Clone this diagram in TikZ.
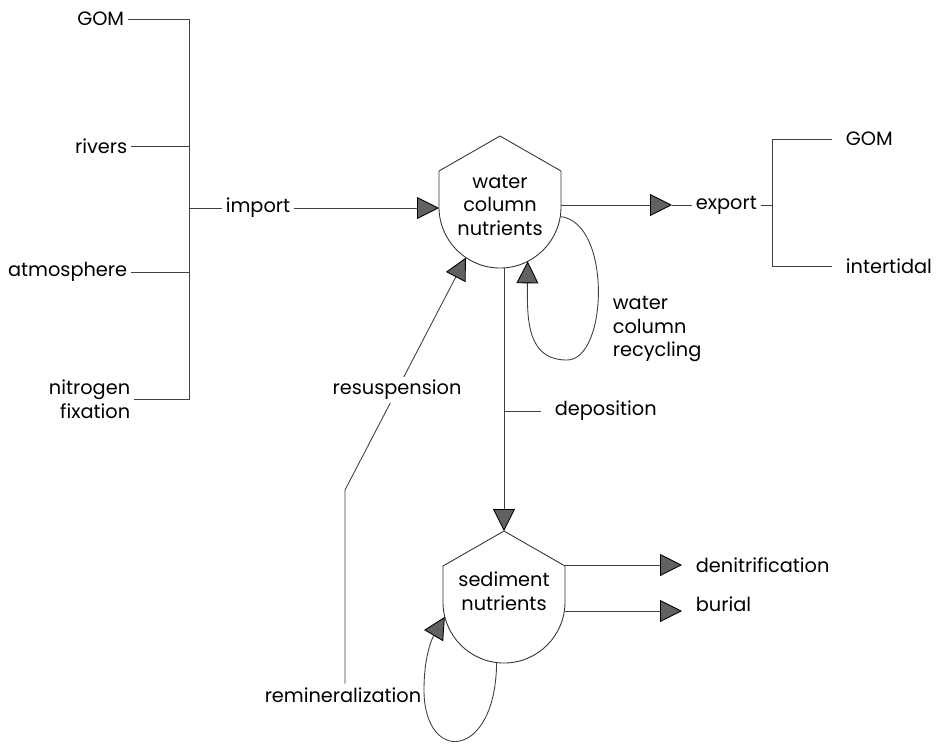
\documentclass[tikz,border=0pt]{standalone}
\usepackage{fontspec}
\setmainfont{Poppins}
\usetikzlibrary{arrows.meta}

% house-shaped outline of a nutrient pool: roof on top, round bottom
\newcommand{\poolrim}[1]{%
  \draw[rim] (#1.center) ++(0,-71) -- ++(61,35) -- (#1.east)
    arc[start angle=0, end angle=180, radius=61] -- ++(0,-36) -- cycle;}

\begin{document}
\begin{tikzpicture}[x=0.02cm, y=-0.02cm,
  wire/.style={draw=black!75, line width=.5pt},
  flow/.style={wire, -{Triangle[length=12.5pt, width=12.5pt, color=black, fill=black!62]}},
  rim/.style={draw=black!80, line width=.5pt},
  pool/.style={circle, minimum size=2.44cm, inner sep=0pt, outer sep=0pt},
  lbl/.style={inner sep=2pt, font=\fontsize{11}{13.4}\selectfont}]
 \useasboundingbox (0,0) rectangle (936,752);

 % pools
 \node[pool] (water) at (500,207) {};
 \node[pool] (sediment) at (504,602) {};
 \poolrim{water}
 \poolrim{sediment}
 \node[lbl, align=center] (wtext) at (500,205) {water\\column\\nutrients};
 \node[lbl, align=center] (stext) at (504,591) {sediment\\nutrients};

 % sources
 \node[lbl, anchor=east] (gomIn) at (128,19) {GOM};
 \node[lbl, anchor=east] (rivers) at (131,146) {rivers};
 \node[lbl, anchor=east] (atmos) at (131,272) {atmosphere};
 \node[lbl, anchor=east, align=right] (nfix) at (134,399) {nitrogen\\fixation};
 \node[lbl] (import) at (258,208) {import};
 \coordinate (inTop) at (189,19);
 \coordinate (inBot) at (189,399);
 \draw[wire] (gomIn.east) -- (inTop) -- (inBot) -- (nfix.east);
 \draw[wire] (rivers.east) -- (rivers.east -| inTop);
 \draw[wire] (atmos.east) -- (atmos.east -| inTop);
 \draw[wire] (import.west -| inTop) -- (import.west);
 \draw[flow] (import.east) -- (import.east -| water.west);

 % export
 \node[lbl, anchor=west] (export) at (692,205) {export};
 \node[lbl, anchor=west] (gomOut) at (842,139) {GOM};
 \node[lbl, anchor=west] (tidal) at (842,266) {intertidal};
 \coordinate (outTop) at (772,139);
 \coordinate (outBot) at (772,266);
 \draw[flow] (export.west -| water.east) -- ([xshift=-4mm]export.west);
 \draw[wire] ([xshift=-4mm]export.west) -- (export.west);
 \draw[wire] (export.east) -- (export.east -| outTop);
 \draw[wire] ([xshift=-2mm]gomOut.west) -- (outTop) -- (outBot) -- ([xshift=-2mm]tidal.west);

 % recycling in the water column
 \node[lbl, anchor=west, align=left] (recycl) at (609,329) {water\\column\\recycling};
 \draw[flow] (water.-9) .. controls (612,222) and (608,360) .. (567,360)
   .. controls (527,360) and (527,320) .. (water.-63);

 % deposition
 \coordinate (sedTop) at (504,531);
 \node[lbl, anchor=west] (depo) at (551,411) {deposition};
 \draw[flow] (sedTop |- water.south) -- (sedTop);
 \draw[wire] (sedTop |- depo.west) -- ([xshift=-2mm]depo.west);

 % losses from the sediment
 \node[lbl, anchor=west] (denit) at (692,565) {denitrification};
 \node[lbl, anchor=base west] (burial) at (692,611) {burial};
 \draw[flow] (denit.west -| sediment.east) -- ([xshift=-2mm]denit.west);
 \draw[flow] (burial.base west -| sediment.east) -- ([xshift=-2mm]burial.base west);

 % remineralization and resuspension
 \node[lbl, anchor=east] (remin) at (425,695) {remineralization};
 \draw[flow] (sediment.-97) .. controls (496,760) and (424,765) .. (424,690)
   .. controls (424,652) and (434,635) .. (sediment.-166);
 \coordinate (kink) at (345,490);
 \draw[flow] (kink |- remin.north) -- (kink) -- (water.-124);
 \node[lbl, fill=white] (resusp) at (397,390) {resuspension};
\end{tikzpicture}
\end{document}
